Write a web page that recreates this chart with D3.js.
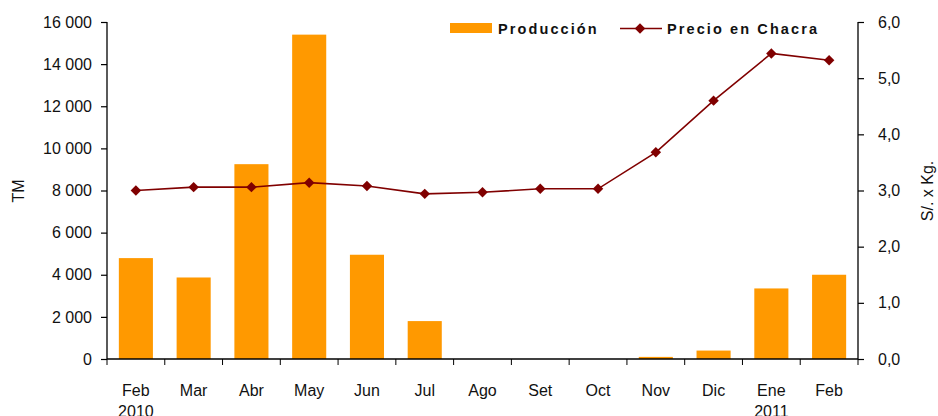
<!DOCTYPE html>
<html><head><meta charset="utf-8">
<script src="https://cdn.jsdelivr.net/npm/d3@7"></script>
<style>body{margin:0;background:#fff}svg{display:block}text{font-family:"Liberation Sans",Arial,sans-serif}</style>
</head><body>
<svg id="c" width="938" height="416"></svg>
<script>
const months = ["Feb","Mar","Abr","May","Jun","Jul","Ago","Set","Oct","Nov","Dic","Ene","Feb"];
const years = ["2010","","","","","","","","","","","2011",""];
const produccion = [4790,3870,9250,15400,4950,1800,0,0,0,100,400,3350,4000];
const precio = [3.0,3.06,3.06,3.14,3.08,2.94,2.97,3.03,3.03,3.68,4.60,5.44,5.32];
const leftTicks = [0,2000,4000,6000,8000,10000,12000,14000,16000];
const rightTicks = [0,1,2,3,4,5,6];

const svg = d3.select("#c");
const L=107,R=858,T=22,B=359;
const idx = d3.range(months.length);
const x = d3.scaleBand().domain(idx).range([L,R]).paddingInner(0.41).paddingOuter(0.205);
const xb = d3.scaleBand().domain(idx).range([L,R]);
const yL = d3.scaleLinear().domain([0,16000]).range([B,T]);
const yR = d3.scaleLinear().domain([0,6]).range([B,T]);

const fmtL = d => d3.format(",")(d).replace(/,/g," ");
const fmtR = d => d3.format(".1f")(d).replace(".",",");

// bars
svg.append("g").selectAll("rect").data(produccion).join("rect")
  .attr("x",(d,i)=>x(i)).attr("width",x.bandwidth())
  .attr("y",d=>yL(d)).attr("height",d=>B-yL(d)).attr("fill","#FF9900");

// left axis
const gl = svg.append("g").attr("transform",`translate(${L},0)`)
  .call(d3.axisLeft(yL).tickValues(leftTicks).tickFormat(fmtL).tickSize(6).tickPadding(9));
// right axis
const gr = svg.append("g").attr("transform",`translate(${R},0)`)
  .call(d3.axisRight(yR).tickValues(rightTicks).tickFormat(fmtR).tickSize(6).tickPadding(14));
// bottom axis
const gb = svg.append("g").attr("transform",`translate(0,${B})`)
  .call(d3.axisBottom(xb).tickValues([]).tickSize(0));
gb.selectAll(".tick").remove();
const bt = svg.append("g");
bt.selectAll("line").data(d3.range(months.length+1)).join("line")
  .attr("x1",i=>L+i*xb.step()).attr("x2",i=>L+i*xb.step())
  .attr("y1",B).attr("y2",B+6).attr("stroke","#000");
bt.selectAll("text.m").data(months).join("text").attr("class","m")
  .attr("x",(d,i)=>xb(i)+xb.bandwidth()/2).attr("y",396).attr("text-anchor","middle")
  .attr("font-size",16).attr("fill","#111").text(d=>d);
bt.selectAll("text.yr").data(years).join("text").attr("class","yr")
  .attr("x",(d,i)=>xb(i)+xb.bandwidth()/2).attr("y",417).attr("text-anchor","middle")
  .attr("font-size",16).attr("fill","#111").text(d=>d);

[gl,gr,gb].forEach(g=>{
  g.selectAll(".domain").attr("stroke","#000").attr("stroke-width",1.3);
  g.selectAll(".tick line").attr("stroke","#000").attr("stroke-width",1.2);
  g.selectAll(".tick text").attr("font-size",16).attr("fill","#111").style("font-family","Liberation Sans, Arial, sans-serif");
});
gl.select(".domain").attr("d",`M0,${T}V${B}`);
gr.select(".domain").attr("d",`M0,${T}V${B}`);
gb.select(".domain").attr("d",`M${L},0H${R}`);

// line
const cx = i => xb(i)+xb.bandwidth()/2;
svg.append("path").datum(precio)
  .attr("d",d3.line().x((d,i)=>cx(i)).y(d=>yR(d)))
  .attr("fill","none").attr("stroke","#800000").attr("stroke-width",1.6);
const diamond = d3.symbol().type(d3.symbolDiamond2).size(70);
svg.append("g").selectAll("path").data(precio).join("path")
  .attr("transform",(d,i)=>`translate(${cx(i)},${yR(d)})`)
  .attr("d",diamond).attr("fill","#800000");

// axis titles
svg.append("text").attr("transform","translate(24,191) rotate(-90)")
  .attr("text-anchor","middle").attr("font-size",16).attr("fill","#111").text("TM");
svg.append("text").attr("transform","translate(933,191) rotate(-90)")
  .attr("text-anchor","middle").attr("font-size",16).attr("fill","#111").text("S/. x Kg.");

// legend
const lg = svg.append("g");
lg.append("rect").attr("x",450).attr("y",23).attr("width",42).attr("height",10).attr("fill","#FF9900");
lg.append("text").attr("x",498).attr("y",33.5).attr("font-size",14.5).attr("font-weight","bold")
  .attr("letter-spacing",2.1).attr("fill","#111").text("Producción");
lg.append("line").attr("x1",620).attr("x2",662).attr("y1",28.5).attr("y2",28.5)
  .attr("stroke","#800000").attr("stroke-width",1.6);
lg.append("path").attr("transform","translate(640,28.5)").attr("d",diamond).attr("fill","#800000");
lg.append("text").attr("x",667).attr("y",33.5).attr("font-size",14.5).attr("font-weight","bold")
  .attr("letter-spacing",2.1).attr("fill","#111").text("Precio en Chacra");
</script>
</body></html>
